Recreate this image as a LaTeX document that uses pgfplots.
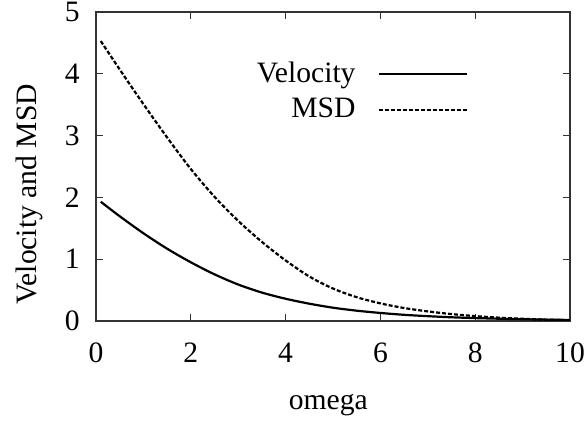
\documentclass[border=0pt]{standalone}
\usepackage{fontspec}
\setmainfont{Liberation Serif}
\usepackage{pgfplots}
\pgfplotsset{compat=1.18}
\begin{document}
\fontsize{14.8}{17}\selectfont
\begin{tikzpicture}
\begin{axis}[
  scale only axis,
  width=237pt, height=154.5pt,
  xmin=0, xmax=10, ymin=0, ymax=5,
  xtick={0,2,4,6,8,10}, ytick={0,1,2,3,4,5},
  tick align=inside,
  major tick length=3.5pt,
  axis line style={black!80, line width=0.6pt},
  tick style={black!80, line width=0.5pt},
  /pgf/number format/assume math mode=true,
  ticklabel style={font=\fontsize{14.8}{17}\selectfont},
  xticklabel style={yshift=-6pt},
  yticklabel style={xshift=-3pt},
  xlabel={omega},
  ylabel={Velocity and MSD},
  every axis x label/.style={at={(axis description cs:0.49,-0.272)}, anchor=center},
  every axis y label/.style={at={(axis description cs:-0.14,0.41)}, rotate=90, anchor=center},
  legend plot pos=right,
  legend cell align=right,
  legend style={draw=none, fill=none, at={(axis description cs:0.785,0.853)}, anchor=north east,
    inner sep=0pt, row sep=1.5pt, column sep=9pt, font=\fontsize{14.8}{17}\selectfont},
  legend image code/.code={\draw[#1] (0pt,0pt) -- (44pt,0pt);},
]
\addplot[black, line width=1.1pt, smooth] coordinates {
(0.1,1.93) (0.5,1.695) (1,1.42) (1.5,1.17) (2,0.95) (2.5,0.755) (3,0.59) (3.5,0.46)
(4,0.36) (4.5,0.28) (5,0.215) (5.5,0.167) (6,0.13) (6.5,0.1) (7,0.078) (7.5,0.06)
(8,0.047) (8.5,0.037) (9,0.029) (9.5,0.022) (10,0.017)
};
\addlegendentry{Velocity}
\addplot[black, line width=1.1pt, dash pattern=on 2pt off 1pt, smooth] coordinates {
(0.1,4.53) (0.5,4.07) (1,3.51) (1.5,2.97) (2,2.46) (2.5,2.01) (3,1.62) (3.5,1.28)
(4,0.98) (4.5,0.72) (5,0.525) (5.5,0.385) (6,0.285) (6.5,0.21) (7,0.155) (7.5,0.112)
(8,0.079) (8.5,0.054) (9,0.036) (9.5,0.022) (10,0.012)
};
\addlegendentry{MSD}
\end{axis}
\pgfresetboundingbox
\path (current axis.south west) +(-48pt,-52pt) (current axis.north east) +(8.5pt,6pt);
\end{tikzpicture}
\end{document}
